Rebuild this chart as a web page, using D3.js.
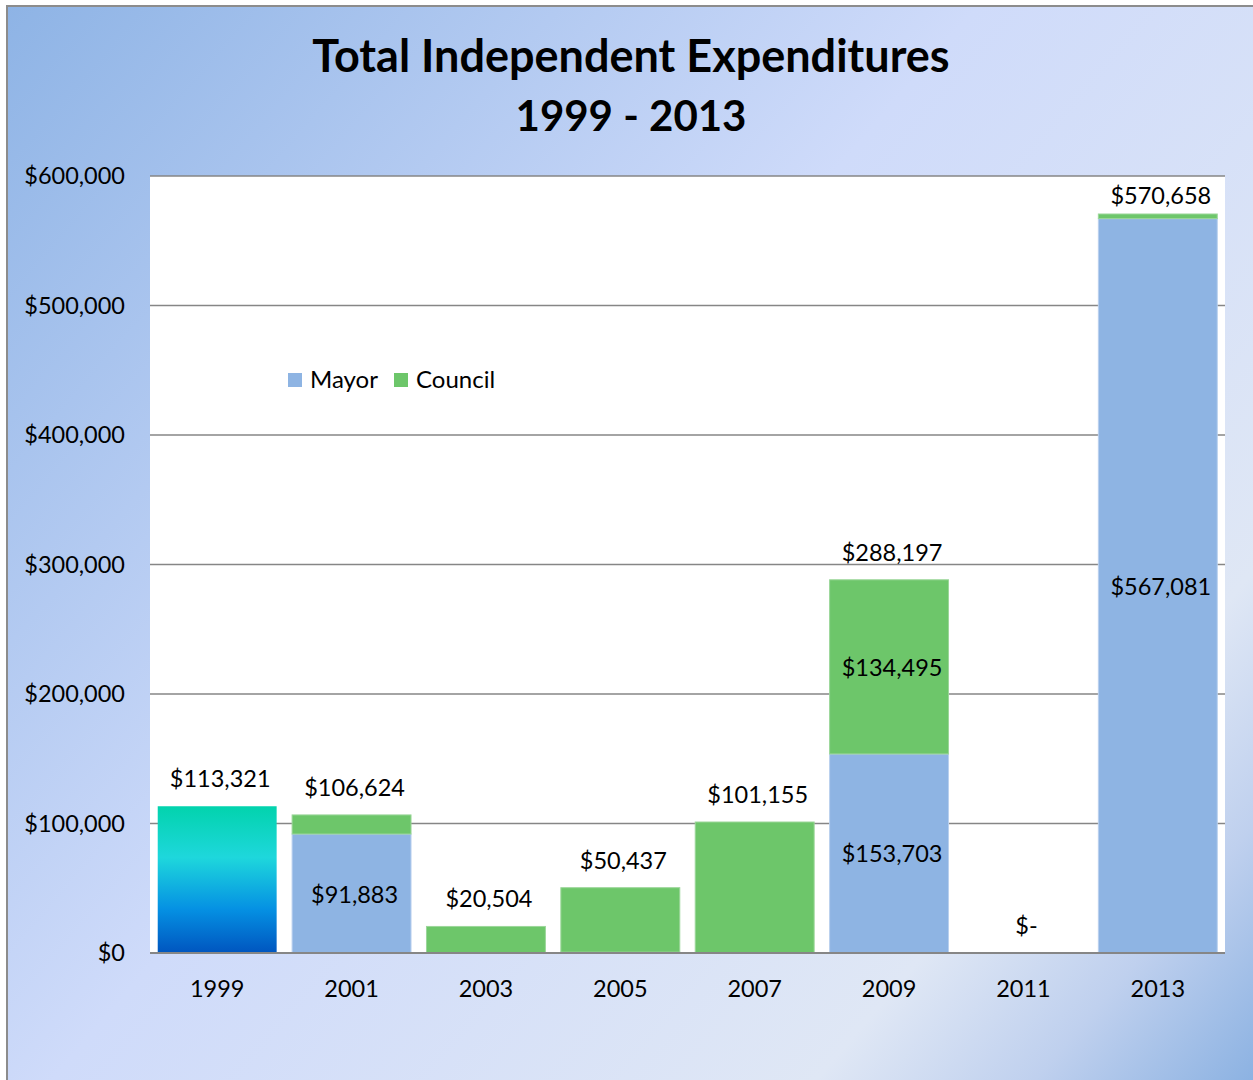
<!DOCTYPE html>
<html>
<head>
<meta charset="utf-8">
<script src="https://cdn.jsdelivr.net/npm/d3@7"></script>
<style>
  body { margin: 0; overflow: hidden; }
  text { font-family: Lato, "Open Sans", sans-serif; fill: #000; }
</style>
</head>
<body>
<script>
var width = 1253,
  height = 1080;

// Data
var years = ["1999", "2001", "2003", "2005", "2007", "2009", "2011", "2013"];
var mayor = [113321, 91883, 0, 700, 0, 153703, 0, 567081];
var council = [0, 14741, 20504, 49737, 101155, 134495, 0, 3577];
var totals = [113321, 106624, 20504, 50437, 101155, 288197, 0, 570658];
// which segment values get an inside label
var mayorLabeled = [false, true, false, false, false, true, false, true];
var councilLabeled = [false, false, false, false, false, true, false, false];
var yTicks = [0, 100000, 200000, 300000, 400000, 500000, 600000];

var margin = { left: 150, right: 28, top: 176, bottom: 127 };

var svg = d3.select("body").append("svg")
  .attr("width", width)
  .attr("height", height);

var defs = svg.append("defs");

// chart background
var bg = defs.append("linearGradient")
  .attr("id", "bg")
  .attr("gradientUnits", "userSpaceOnUse")
  .attr("x1", 0).attr("y1", 0)
  .attr("x2", width).attr("y2", height);
[["0", "#8db3e5"], ["0.45", "#cfdbfa"], ["0.8", "#dfe7f5"], ["0.9", "#bfd0ee"], ["1", "#8cb2e2"]]
  .forEach(function (s) { bg.append("stop").attr("offset", s[0]).attr("stop-color", s[1]); });

// odd 1999 bar fill
var g99 = defs.append("linearGradient")
  .attr("id", "g99")
  .attr("x1", 0).attr("y1", 0)
  .attr("x2", 0).attr("y2", 1);
[["0", "#02d3ad"], ["0.35", "#1ed7dc"], ["0.7", "#0591e3"], ["1", "#0055bf"]]
  .forEach(function (s) { g99.append("stop").attr("offset", s[0]).attr("stop-color", s[1]); });

svg.append("rect")
  .attr("x", 7).attr("y", 6)
  .attr("width", width + 10).attr("height", height + 10)
  .attr("fill", "url(#bg)")
  .attr("stroke", "#8c8c8c")
  .attr("stroke-width", 2);

// Title
svg.append("text")
  .attr("x", 631).attr("y", 72)
  .attr("text-anchor", "middle")
  .style("font-size", "45px").style("font-weight", "bold")
  .text("Total Independent Expenditures");
svg.append("text")
  .attr("x", 631).attr("y", 131)
  .attr("text-anchor", "middle")
  .style("font-size", "42px").style("font-weight", "bold")
  .text("1999 - 2013");

// Scales
var x = d3.scaleBand()
  .domain(years)
  .range([margin.left, width - margin.right])
  .paddingInner(0.115)
  .paddingOuter(0.0575);

var y = d3.scaleLinear()
  .domain([0, 600000])
  .range([height - margin.bottom, margin.top]);

var fmt = d3.format(",");
function money(v) { return v === 0 ? "$-" : "$" + fmt(v); }

// plot area
svg.append("rect")
  .attr("x", margin.left).attr("y", y(600000))
  .attr("width", width - margin.right - margin.left)
  .attr("height", y(0) - y(600000))
  .attr("fill", "#fff");

// gridlines
svg.append("g")
  .selectAll("line")
  .data(yTicks.slice(1))
  .enter()
  .append("line")
  .attr("x1", margin.left).attr("x2", width - margin.right)
  .attr("y1", function (d) { return y(d); })
  .attr("y2", function (d) { return y(d); })
  .attr("stroke", "#868686")
  .attr("stroke-width", 1.5);

// y axis labels
var yAxis = d3.axisLeft(y)
  .tickValues(yTicks)
  .tickSize(0)
  .tickPadding(25)
  .tickFormat(function (d) { return "$" + fmt(d); });

svg.append("g")
  .attr("transform", "translate(" + margin.left + ",0)")
  .call(yAxis)
  .call(function (g) { g.select(".domain").remove(); })
  .selectAll("text")
  .style("font-size", "23.5px")
  .style("font-family", "Lato, 'Open Sans', sans-serif")
  .attr("fill", "#000");

// bars
var bars = svg.append("g");
years.forEach(function (yr, i) {
  var bx = x(yr), bw = x.bandwidth();
  if (mayor[i] > 0) {
    bars.append("rect")
      .attr("x", bx).attr("width", bw)
      .attr("y", y(mayor[i]))
      .attr("height", y(0) - y(mayor[i]))
      .attr("fill", i === 0 ? "url(#g99)" : "#8eb4e3")
      .attr("stroke", i === 0 ? "none" : "#b9d0ee")
      .attr("stroke-width", 1);
  }
  if (council[i] > 0) {
    bars.append("rect")
      .attr("x", bx).attr("width", bw)
      .attr("y", y(mayor[i] + council[i]))
      .attr("height", y(mayor[i]) - y(mayor[i] + council[i]))
      .attr("fill", "#6dc66a")
      .attr("stroke", "#9bd699")
      .attr("stroke-width", 1);
  }
});

// baseline
svg.append("line")
  .attr("x1", margin.left).attr("x2", width - margin.right)
  .attr("y1", y(0)).attr("y2", y(0))
  .attr("stroke", "#868686")
  .attr("stroke-width", 2);

// x axis labels
var xAxis = d3.axisBottom(x).tickSize(0).tickPadding(27);
svg.append("g")
  .attr("transform", "translate(0," + y(0) + ")")
  .call(xAxis)
  .call(function (g) { g.select(".domain").remove(); })
  .selectAll("text")
  .style("font-size", "23.5px")
  .style("font-family", "Lato, 'Open Sans', sans-serif")
  .attr("fill", "#000");

// labels
var labels = svg.append("g")
  .attr("text-anchor", "middle")
  .style("font-size", "23.5px");

years.forEach(function (yr, i) {
  var cx = x(yr) + x.bandwidth() / 2 + 3;
  labels.append("text")
    .attr("x", cx)
    .attr("y", Math.max(y(totals[i]) - 19, margin.top + 28))
    .text(money(totals[i]));
  if (mayorLabeled[i]) {
    labels.append("text")
      .attr("x", cx)
      .attr("y", (y(0) + y(mayor[i])) / 2 + 9)
      .text(money(mayor[i]));
  }
  if (councilLabeled[i]) {
    labels.append("text")
      .attr("x", cx)
      .attr("y", (y(mayor[i]) + y(mayor[i] + council[i])) / 2 + 9)
      .text(money(council[i]));
  }
});

// legend
var legendItems = [["Mayor", "#8eb4e3", 288], ["Council", "#6dc66a", 394]];
var legend = svg.append("g");
legendItems.forEach(function (d) {
  legend.append("rect")
    .attr("x", d[2]).attr("y", 373)
    .attr("width", 14).attr("height", 14)
    .attr("fill", d[1]);
  legend.append("text")
    .attr("x", d[2] + 22).attr("y", 388)
    .style("font-size", "24px")
    .text(d[0]);
});
</script>
</body>
</html>
